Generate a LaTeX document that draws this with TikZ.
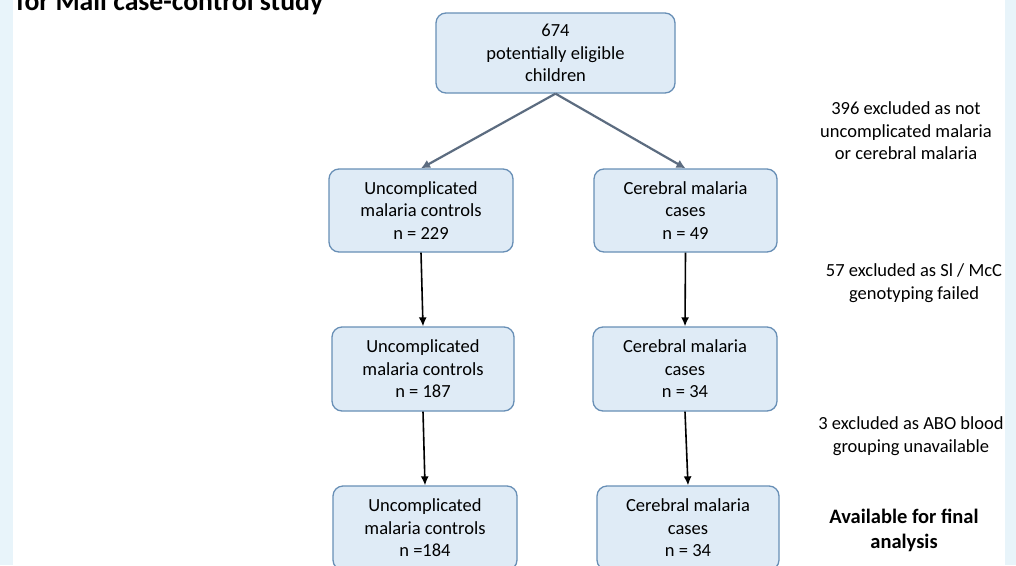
\documentclass[tikz,border=0pt]{standalone}
\usepackage{fontspec}
\setmainfont{Carlito}
\usetikzlibrary{arrows.meta}
\definecolor{boxfill}{RGB}{223,235,246}
\definecolor{boxline}{RGB}{104,143,182}
\definecolor{grayarrow}{RGB}{92,108,128}
\definecolor{sidestrip}{RGB}{232,244,250}
\tikzset{
  flowbox/.style={draw=boxline, fill=boxfill, line width=1.3pt, rounded corners=10pt,
    align=center, inner sep=0pt, text=black,
    font=\fontsize{18.5}{22.5}\selectfont},
  notetext/.style={align=center, inner sep=0pt, text=black,
    font=\fontsize{18.5}{22.5}\selectfont},
  grayarr/.style={draw=grayarrow, line width=2.2pt, -{Latex[length=9pt,width=9pt]}},
  blackarr/.style={draw=black, line width=1.6pt, -{Latex[length=9pt,width=8pt]}}
}
\begin{document}
\begin{tikzpicture}[x=1pt,y=-1pt]
\useasboundingbox (0,0) rectangle (1016,565);
\clip (0,0) rectangle (1016,565);
\fill[white] (0,0) rectangle (1016,565);
\fill[sidestrip] (0,0) rectangle (13,565);
\fill[sidestrip] (1005,0) rectangle (1016,565);
% title (cut off at top)
\node[anchor=base west, inner sep=0pt, font=\fontsize{27.7}{32}\selectfont\bfseries] (title) at (16,10) {for Mali case-control study};
% boxes
\node[flowbox, minimum width=239pt, minimum height=80pt] (top) at (555.5,53) {674\\potentially eligible\\children};
\node[flowbox, minimum width=184pt, minimum height=83pt] (uc1) at (421,210.5) {Uncomplicated\\malaria controls\\n = 229};
\node[flowbox, minimum width=183pt, minimum height=83pt] (cm1) at (685.5,210.5) {Cerebral malaria\\cases\\n = 49};
\node[flowbox, minimum width=182pt, minimum height=84pt] (uc2) at (423,369) {Uncomplicated\\malaria controls\\n = 187};
\node[flowbox, minimum width=184pt, minimum height=84pt] (cm2) at (685,369) {Cerebral malaria\\cases\\n = 34};
\node[flowbox, minimum width=184pt, minimum height=84pt] (uc3) at (425,528) {Uncomplicated\\malaria controls\\n =184};
\node[flowbox, minimum width=182pt, minimum height=84pt] (cm3) at (688,528) {Cerebral malaria\\cases\\n = 34};
% connectors
\draw[grayarr] (top.south) -- (uc1.north);
\draw[grayarr] (top.south) -- (cm1.north);
\draw[blackarr] (uc1.south) -- (uc2.north);
\draw[blackarr] (cm1.south) -- (cm2.north);
\draw[blackarr] (uc2.south) -- (uc3.north);
\draw[blackarr] (cm2.south) -- (cm3.north);
% side notes
\node[notetext] (n1) at (906,131) {396 excluded as not\\uncomplicated malaria\\or cerebral malaria};
\node[notetext] (n2) at (914,283) {57 excluded as Sl / McC\\genotyping failed};
\node[notetext] (n3) at (911,436) {3 excluded as ABO blood\\grouping unavailable};
\node[notetext, font=\fontsize{20.5}{25}\selectfont\bfseries] (n4) at (904,530) {Available for final\\analysis};
\end{tikzpicture}
\end{document}
